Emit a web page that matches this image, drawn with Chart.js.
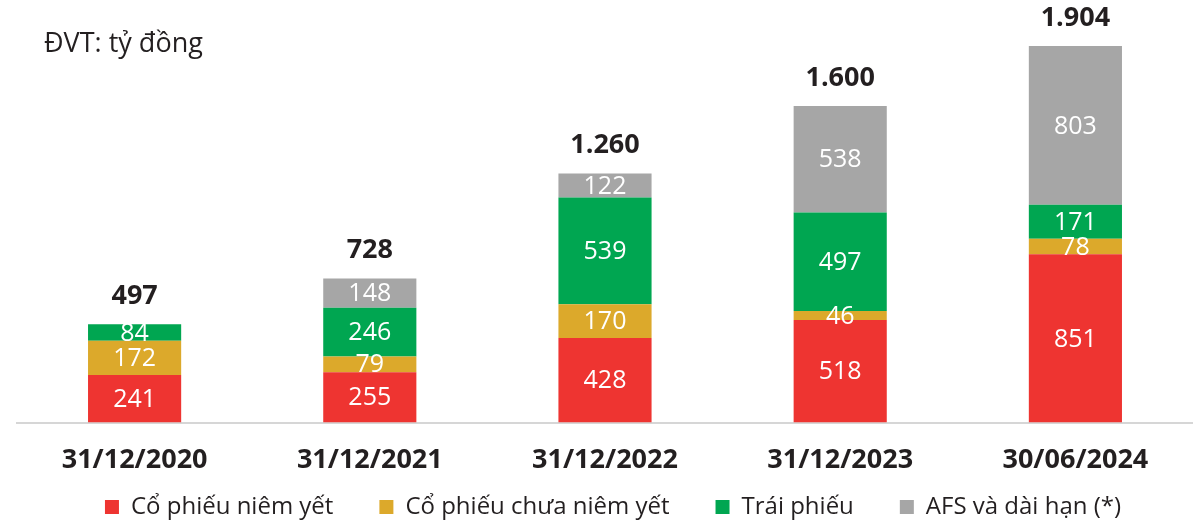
<!DOCTYPE html>
<html lang="vi">
<head>
<meta charset="utf-8">
<script src="https://cdn.jsdelivr.net/npm/chart.js@4.4.1/dist/chart.umd.min.js"></script>
<style>
  html, body { margin: 0; padding: 0; background: #ffffff; }
  #wrap { position: relative; width: 1193px; height: 522px; }
  #unit { position: absolute; left: 44px; top: 28px; font-family: "Open Sans", sans-serif; font-size: 27px; line-height: 1; color: #231f20; white-space: nowrap; }
</style>
</head>
<body>
<div id="wrap">
  <canvas id="chart"></canvas>
  <div id="unit">ĐVT: tỷ đồng</div>
</div>
<script>
// ---- data ----
const categories = ['31/12/2020', '31/12/2021', '31/12/2022', '31/12/2023', '30/06/2024'];
const seriesNames = ['Cổ phiếu niêm yết', 'Cổ phiếu chưa niêm yết', 'Trái phiếu', 'AFS và dài hạn (*)'];
const listedShares = [241, 255, 428, 518, 851];
const unlistedShares = [172, 79, 170, 46, 78];
const bonds = [84, 246, 539, 497, 171];
const afsLongTerm = [null, 148, 122, 538, 803];
const totals = [497, 728, 1260, 1600, 1904];

// ---- styles ----
const seriesColors = ['#EE3431', '#DCA92B', '#00A651', '#A6A6A6'];
const FONT = '"Open Sans", sans-serif';
const TEXT_DARK = '#231f20';
const LEGEND_CENTER_Y = 507;
const LEGEND_SHIFT_X = 25;

const fmt = n => String(n).replace(/\B(?=(\d{3})+(?!\d))/g, '.');

const seriesValues = [listedShares, unlistedShares, bonds, afsLongTerm];

const labelPlugin = {
  id: 'barLabels',
  afterDatasetsDraw(chart) {
    const ctx = chart.ctx;
    ctx.save();
    ctx.textAlign = 'center';
    ctx.textBaseline = 'middle';
    ctx.font = '25px ' + FONT;
    ctx.fillStyle = '#ffffff';
    const tops = [];
    chart.data.datasets.forEach((ds, di) => {
      const meta = chart.getDatasetMeta(di);
      meta.data.forEach((bar, i) => {
        const v = ds.data[i];
        if (v === null || v === undefined) return;
        const p = bar.getProps(['x', 'y', 'base'], true);
        ctx.fillText(fmt(v), p.x, (p.y + p.base) / 2 + 1);
        if (tops[i] === undefined || p.y < tops[i].y) tops[i] = { x: p.x, y: p.y };
      });
    });
    ctx.font = 'bold 27px ' + FONT;
    ctx.fillStyle = TEXT_DARK;
    tops.forEach((t, i) => {
      ctx.fillText(fmt(totals[i]), t.x, t.y - 28);
    });
    ctx.restore();
  }
};

const legendPlacePlugin = {
  id: 'legendPlace',
  afterLayout(chart) {
    const lg = chart.legend;
    if (!lg) return;
    const pad = lg.options.labels.padding;
    const fs = lg.options.labels.font.size;
    lg.top = LEGEND_CENTER_Y - fs / 2 - pad;
    lg.bottom = chart.height;
    lg.height = lg.bottom - lg.top;
    const w = lg.width;
    lg.left = LEGEND_SHIFT_X;
    lg.right = lg.left + w;
  }
};

new Chart(document.getElementById('chart'), {
  type: 'bar',
  data: {
    labels: categories,
    datasets: seriesNames.map((name, k) => ({
      label: name,
      data: seriesValues[k],
      backgroundColor: seriesColors[k],
      borderWidth: 0,
      categoryPercentage: 1,
      barPercentage: 0.396
    }))
  },
  options: {
    responsive: true,
    maintainAspectRatio: false,
    animation: false,
    layout: { padding: { left: 17, right: 0, top: 0, bottom: 0 } },
    scales: {
      x: {
        stacked: true,
        grid: { display: false, drawTicks: false },
        border: { display: true, color: '#d6d6d6', width: 2 },
        ticks: {
          color: TEXT_DARK,
          font: { family: FONT, size: 27, weight: 'bold' },
          padding: 22,
          maxRotation: 0,
          autoSkip: false
        }
      },
      y: {
        stacked: true,
        display: false,
        min: 0,
        max: 2135
      }
    },
    plugins: {
      legend: {
        position: 'bottom',
        maxHeight: 23,
        labels: {
          color: TEXT_DARK,
          font: { family: FONT, size: 24 },
          boxWidth: 14,
          boxHeight: 14,
          padding: 46
        }
      },
      tooltip: { enabled: false },
      title: { display: false }
    }
  },
  plugins: [labelPlugin, legendPlacePlugin]
});
</script>
</body>
</html>
